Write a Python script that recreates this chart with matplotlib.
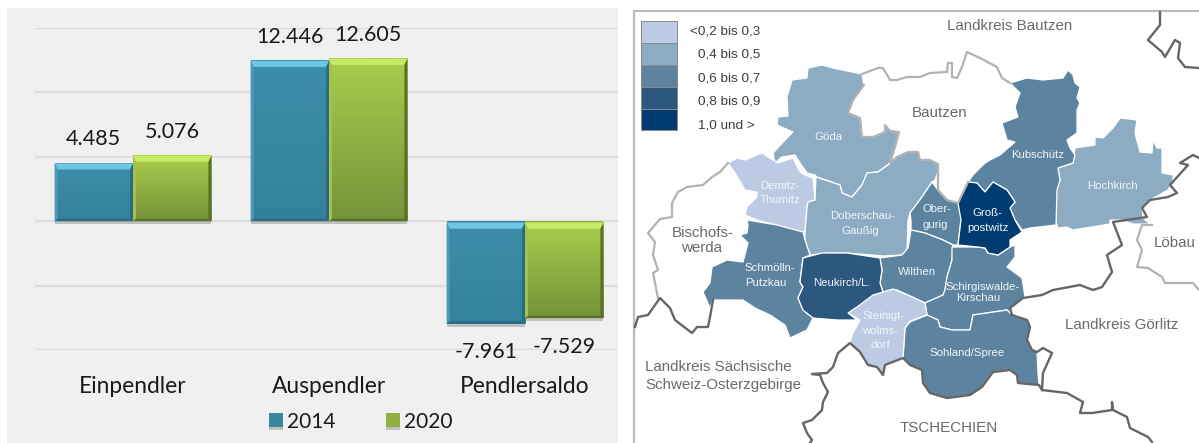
import matplotlib
matplotlib.use('Agg')
import matplotlib.pyplot as plt
import numpy as np
from matplotlib.patches import Polygon, Rectangle
from matplotlib.patheffects import SimplePatchShadow, Normal

W, H = 1199, 443

# bar chart data
categories = ['Einpendler', 'Auspendler', 'Pendlersaldo']
years = ['2014', '2020']
values_2014 = [4485, 12446, -7961]
values_2020 = [5076, 12605, -7529]
yticks = [-10000, -5000, 0, 5000, 10000, 15000]

# map: legend classes
class_labels = ['<0,2 bis 0,3', '0,4 bis 0,5', '0,6 bis 0,7', '0,8 bis 0,9', '1,0 und >']
class_colors = ['#bccbe3', '#8cacc4', '#5c84a0', '#2c5880', '#003c70']

# map: municipalities, outlines (image pixels), class index
goeda = [(808,68),(822,65),(833,68),(847,71),(862,74),(864,85),(853,100),(848,113),(860,118),(862,137),(873,137),(885,132),(885,125),(890,131),(899,132),(895,147),(890,163),(878,172),(867,173),(862,185),(852,197),(842,193),(840,185),(817,177),(815,175),(807,173),(800,163),(795,155),(782,157),(775,163),(773,153),(787,138),(793,132),(777,125),(778,117),(788,116),(787,97),(792,80),(807,78)]
demitz = [(728,163),(737,158),(745,160),(762,153),(773,160),(778,163),(793,158),(800,172),(805,175),(813,178),(815,200),(808,202),(807,208),(805,232),(790,230),(777,225),(757,220),(745,215),(747,207),(757,197),(757,192),(745,190),(735,173)]
doberschau = [(816,177),(840,185),(842,193),(852,197),(862,185),(867,173),(878,172),(888,165),(897,157),(908,152),(918,152),(920,160),(930,160),(938,164),(938,172),(935,180),(932,182),(922,197),(910,213),(908,220),(907,252),(902,255),(883,256),(847,253),(827,253),(810,255),(805,240),(805,232),(807,208),(808,202),(815,200)]
obergurig = [(932,182),(938,190),(947,200),(958,203),(963,217),(961,220),(958,245),(953,245),(943,240),(925,233),(911,230),(911,220),(910,213),(922,197)]
grosspostwitz = [(958,203),(968,182),(977,183),(985,192),(993,182),(1007,190),(1015,202),(1010,208),(1015,220),(1022,232),(1010,240),(1010,247),(998,255),(988,253),(985,248),(978,247),(958,245),(961,220)]
kubschuetz = [(1010,83),(1027,78),(1043,80),(1063,78),(1068,70),(1073,75),(1075,83),(1080,87),(1077,98),(1080,103),(1077,110),(1077,133),(1067,140),(1070,148),(1075,155),(1073,163),(1058,168),(1060,180),(1057,190),(1056,225),(1030,228),(1022,230),(1015,220),(1010,208),(1015,202),(1007,190),(993,182),(985,192),(977,183),(968,182),(973,175),(985,163),(990,160),(1000,155),(1015,142),(1007,140),(1002,123),(1018,117),(1015,107),(1020,93)]
hochkirch = [(1058,168),(1073,163),(1075,148),(1095,145),(1095,137),(1103,138),(1113,128),(1120,118),(1137,120),(1135,133),(1140,152),(1152,153),(1153,140),(1157,148),(1162,148),(1162,173),(1173,175),(1173,182),(1168,190),(1150,200),(1142,208),(1143,218),(1150,224),(1133,224),(1122,220),(1110,220),(1110,224),(1073,230),(1067,227),(1058,228),(1056,222),(1056,190),(1060,180)]
schmoelln = [(747,220),(777,225),(803,232),(805,240),(810,255),(803,258),(800,282),(803,287),(798,298),(803,310),(813,318),(807,330),(790,338),(785,325),(770,315),(755,308),(743,300),(713,300),(710,308),(703,292),(710,283),(712,267),(727,260),(743,262),(748,243),(740,235),(747,233),(748,225)]
neukirch = [(803,258),(822,253),(847,253),(880,258),(882,270),(880,283),(883,292),(873,295),(857,307),(848,313),(857,320),(837,320),(813,318),(803,310),(798,298),(803,287),(800,282)]
wilthen = [(880,258),(902,255),(908,248),(911,230),(925,233),(943,240),(953,245),(952,260),(947,277),(945,290),(943,295),(925,303),(910,296),(897,290),(883,292),(880,283),(882,270)]
steinigt = [(848,313),(860,303),(873,295),(893,289),(910,296),(925,303),(927,315),(910,321),(905,328),(903,358),(890,363),(885,365),(883,375),(877,367),(868,365),(863,357),(850,343),(852,335),(860,320)]
schirgiswalde = [(952,247),(978,247),(985,248),(988,253),(998,255),(1010,247),(1015,245),(1015,257),(1007,267),(1022,278),(1025,297),(1012,308),(1010,312),(1007,310),(973,315),(970,330),(952,330),(940,327),(938,320),(927,315),(925,303),(943,295),(945,290),(947,277),(952,260)]
sohland = [(910,322),(927,315),(938,320),(940,327),(952,330),(970,330),(973,315),(1007,310),(1010,313),(1027,320),(1030,327),(1027,340),(1032,350),(1037,352),(1038,373),(1039,385),(1018,383),(1017,375),(1010,370),(993,372),(982,387),(970,395),(947,398),(930,393),(923,383),(922,370),(910,365),(903,358),(905,328)]
regions = [(goeda, 1), (demitz, 0), (doberschau, 1), (hochkirch, 1), (kubschuetz, 2), (obergurig, 2),
           (schmoelln, 2), (wilthen, 2), (schirgiswalde, 2), (sohland, 2), (steinigt, 0),
           (neukirch, 3), (grosspostwitz, 4)]

# map: borders
dark_borders = [
    [(1160,12),(1160,25),(1148,40),(1162,52),(1165,57),(1175,40),(1180,43),(1178,58),(1185,67),(1199,68)],
    [(1199,158),(1193,155),(1180,163),(1188,165),(1170,185),(1177,193),(1168,197),(1150,200),(1142,208),(1147,217),(1113,222),(1122,245),(1107,255),(1112,272),(1102,287),(1093,290),(1080,285),(1053,290),(1042,295),(1023,298),(1010,308),(1012,315),(1027,320),(1030,327),(1027,340),(1032,350),(1037,352),(1043,348),(1052,353),(1043,373),(1042,390),(1067,393),(1083,402),(1080,413),(1092,413),(1112,410),(1112,402),(1113,410),(1127,417),(1130,428),(1148,437),(1152,442)],
    [(1042,390),(1039,385),(1018,383),(1017,375),(1010,370),(993,372),(982,387),(970,395),(947,398),(930,393),(923,383),(922,370),(910,365),(903,358),(890,363),(885,365),(883,375),(877,367),(868,365),(860,352),(850,343),(838,353),(833,367),(827,373),(812,374),(820,375),(823,383),(828,392),(823,402),(822,410),(815,417),(812,420),(803,423),(807,433),(812,440),(810,443)],
    [(635,327),(638,317),(648,315),(660,298),(670,308),(675,320),(692,333),(697,327),(708,327),(710,317),(713,300)],
]
light_borders = [
    [(728,163),(720,172),(712,177),(703,185),(687,187),(678,192),(672,203),(672,217),(660,219),(648,233),(655,242),(653,255),(658,270),(653,273),(658,298)],
    [(862,74),(878,68),(883,68),(890,80),(897,80),(907,77),(920,77),(930,73),(947,72),(948,63),(952,63),(952,77),(957,78),(962,67),(967,52),(980,58),(997,67),(1002,78),(1010,83)],
    [(864,85),(853,100),(848,113),(860,118),(862,137),(873,137),(885,132),(885,125),(890,131),(899,132),(895,147),(890,163),(897,157),(908,152),(918,152),(920,160),(930,160),(938,164),(938,172),(938,190),(947,200),(958,203),(968,182)],
    [(1152,225),(1142,225),(1137,240),(1142,250),(1137,267),(1148,268),(1162,277),(1165,283),(1193,283),(1199,290)],
]

# map: names, (text, x, y)
outer_names = [('Landkreis Bautzen', 1010, 26, 'center'), ('Bautzen', 940, 113, 'center'),
               ('Bischofs-', 703, 233, 'center'), ('werda', 702, 248, 'center'), ('Löbau', 1175, 243, 'center'),
               ('Landkreis Görlitz', 1122, 325, 'center'), ('Landkreis Sächsische', 645, 367, 'left'),
               ('Schweiz-Osterzgebirge', 645, 385, 'left'), ('TSCHECHIEN', 949, 428, 'center')]
inner_names = [('Göda', 828, 137), ('Demitz-', 780, 186), ('Thumitz', 780, 200), ('Doberschau-', 863, 216),
               ('Gaußig', 860, 231), ('Ober-', 937, 209), ('gurig', 935, 225), ('Groß-', 987, 213),
               ('postwitz', 988, 228), ('Kubschütz', 1038, 155), ('Hochkirch', 1112, 186), ('Schmölln-', 770, 268),
               ('Putzkau', 766, 283), ('Neukirch/L.', 842, 283), ('Wilthen', 917, 272), ('Schirgiswalde-', 983, 287),
               ('Kirschau', 978, 298), ('Steinigt-', 884, 316), ('wolms-', 880, 331), ('dorf', 880, 345),
               ('Sohland/Spree', 967, 353)]

fig = plt.figure(figsize=(W / 100, H / 100), dpi=100, facecolor='white')

def px_box(x0, y0, x1, y1):
    return [x0 / W, 1 - y1 / H, (x1 - x0) / W, (y1 - y0) / H]

# grey panel behind the bars
fig.patches.append(Rectangle((7 / W, 0), (618 - 7) / W, 1 - 8 / H, transform=fig.transFigure,
                             facecolor='#f0f0f0', edgecolor='none', zorder=-1))

ax = fig.add_axes(px_box(35, 28, 618, 350))
ax.patch.set_visible(False)
ax.set_xlim(-0.5, (618 - 35) / 196 - 0.5)
ax.set_ylim(yticks[0], yticks[-1])
ax.set_yticks(yticks)
ax.tick_params(left=False, bottom=False, labelleft=False)
ax.set_xticks(range(len(categories)))
ax.set_xticklabels(categories, fontsize=16.4, family='Lato', color='#1a1a1a')
ax.tick_params(axis='x', pad=15)
for s in ax.spines.values():
    s.set_visible(False)
ax.set_axisbelow(True)
ax.grid(axis='y', color='#dcdcdc', lw=1.6)

px_x = 1 / 196
px_y = 5000 / 64.4
bar_w = 0.4
styles = [
    dict(base='#38879f', top='#3d8eab', bottom='#34819c', light='#6fc6e2', side='#4a9ab8', dark='#2a6c84'),
    dict(base='#90b040', top='#a9cd4c', bottom='#76923a', light='#c9ea68', side='#a2c24a', dark='#5a7228'),
]

def bevel(x0, x1, y0, y1, st):
    # raised edge of a bar; y1 is the upper edge
    tx, ty = 3 * px_x, 6 * px_y
    bx, by = 3 * px_x, 2.5 * px_y
    ax.add_patch(Polygon([(x0, y1), (x1, y1), (x1 - tx, y1 - ty), (x0 + tx, y1 - ty)], fc=st['light'], ec='none', zorder=4))
    ax.add_patch(Polygon([(x0, y0), (x1, y0), (x1 - bx, y0 + by), (x0 + bx, y0 + by)], fc=st['dark'], ec='none', zorder=4))
    ax.add_patch(Polygon([(x0, y0), (x0 + tx, y0 + by), (x0 + tx, y1 - ty), (x0, y1)], fc=st['side'], ec='none', zorder=4))
    ax.add_patch(Polygon([(x1, y0), (x1 - tx, y0 + by), (x1 - tx, y1 - ty), (x1, y1)], fc=st['dark'], ec='none', zorder=4))

bars = []
for k, (vals, st) in enumerate(zip([values_2014, values_2020], styles)):
    off = -0.2 + 0.4 * k
    b = ax.bar(np.arange(3) + off, vals, bar_w, color=st['base'], zorder=2, label=years[k],
               path_effects=[SimplePatchShadow(offset=(0, -2.2), alpha=0.25, shadow_rgbFace='#333333'), Normal()])
    bars.append(b)
    grad = matplotlib.colors.LinearSegmentedColormap.from_list('g', [st['top'], st['bottom']])
    for i, v in enumerate(vals):
        x0, x1 = i + off - bar_w / 2, i + off + bar_w / 2
        y0, y1 = min(v, 0), max(v, 0)
        if v < 0:
            y1 -= 1.5 * px_y
        ax.imshow(np.linspace(0, 1, 64)[:, None], cmap=grad, extent=(x0, x1, y0, y1), aspect='auto', zorder=3)
        bevel(x0, x1, y0, y1, st)
        ax.annotate(f'{v:,}'.replace(',', '.'), (i + off, v), xytext=(0, 17.5 if v > 0 else -20.5),
                    textcoords='offset points', ha='center', va='center', fontsize=15.5, family='Lato', color='#1a1a1a')
ax.set_xlim(-0.5, (618 - 35) / 196 - 0.5)
ax.set_ylim(yticks[0], yticks[-1])

leg = ax.legend(handles=[b[0] for b in bars], labels=years, loc='center', bbox_to_anchor=(326 / 583, -71.5 / 322), ncol=2,
                frameon=False, handlelength=0.68, handleheight=0.62, handletextpad=0.2, columnspacing=2.4,
                prop=dict(family='Lato', size=15), labelcolor='#1a1a1a')

# map side
m = fig.add_axes([0, 0, 1, 1])
m.set_xlim(0, W)
m.set_ylim(H, 0)
m.axis('off')
m.plot([1199, 634, 634], [11, 11, 443], color='#bcbcbc', lw=1.6, solid_joinstyle='miter')

for pts, c in regions:
    m.add_patch(Polygon(pts, closed=True, fc=class_colors[c], ec='white', lw=0.9, zorder=2))
for line in light_borders:
    m.plot(*zip(*line), color='#b2b2b2', lw=1.6, zorder=3)
for line in dark_borders:
    m.plot(*zip(*line), color='#666666', lw=1.7, zorder=3)

edges = [21, 43, 65, 87, 109, 130]
for i, (lab, col) in enumerate(zip(class_labels, class_colors)):
    m.add_patch(Rectangle((641, edges[i]), 36, edges[i + 1] - edges[i], fc=col, ec='#8a8a8a', lw=0.7, zorder=2))
    m.text(690 if i == 0 else 698, 31 + i * 23.5, lab, fontsize=9.7, family='Liberation Sans', color='#3c3c3c',
           va='center', ha='left', zorder=4)

for name, x, y, ha in outer_names:
    m.text(x, y, name, fontsize=10.9, family='Liberation Sans', color='#6a6a6a', ha=ha, va='center', zorder=4)
for name, x, y in inner_names:
    m.text(x, y, name, fontsize=8.2, family='Liberation Sans', color='#f2f5f8', ha='center', va='center', zorder=4)

fig.savefig('out.png', dpi=100)
